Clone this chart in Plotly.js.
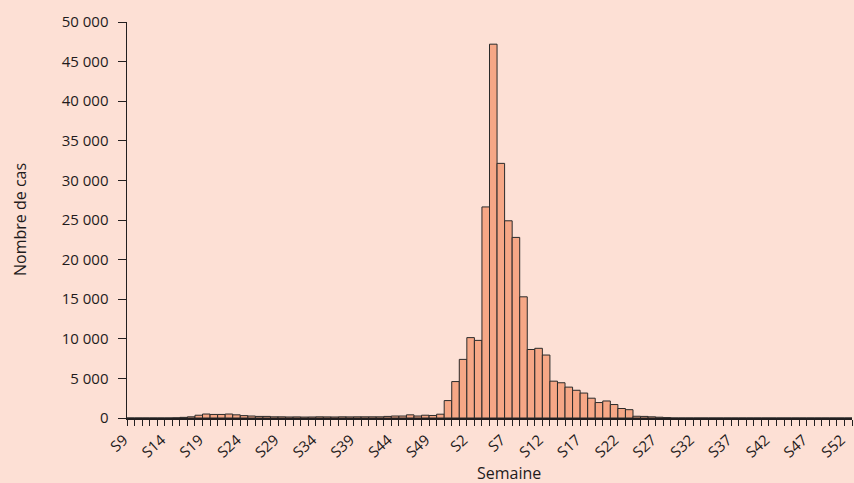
<!DOCTYPE html>
<html>
<head>
<meta charset="utf-8">
<script src="https://cdn.plot.ly/plotly-3.0.1.min.js"></script>
<style>html,body{margin:0;padding:0;background:#FDE0D5;}#chart{width:854px;height:483px;}</style>
</head>
<body>
<div id="chart"></div>
<script>
// Week labels (two consecutive seasons: S9..S52 then S1..S52)
const weeks = [
  "S9","S10","S11","S12","S13","S14","S15","S16","S17","S18","S19","S20","S21","S22","S23","S24",
  "S25","S26","S27","S28","S29","S30","S31","S32","S33","S34","S35","S36","S37","S38","S39","S40",
  "S41","S42","S43","S44","S45","S46","S47","S48","S49","S50","S51","S52",
  "S1","S2","S3","S4","S5","S6","S7","S8","S9","S10","S11","S12","S13","S14","S15","S16",
  "S17","S18","S19","S20","S21","S22","S23","S24","S25","S26","S27","S28","S29","S30","S31","S32",
  "S33","S34","S35","S36","S37","S38","S39","S40","S41","S42","S43","S44","S45","S46","S47","S48",
  "S49","S50","S51","S52"
];
// Weekly case counts
const cases = [
  0,0,0,0,0,0,20,80,150,350,500,450,450,500,400,300,
  250,200,200,150,150,130,140,120,130,150,140,130,150,140,150,150,
  150,150,200,250,250,400,250,350,320,480,2200,
  4600,7400,10150,9800,26650,47200,32150,24900,22800,15300,8650,8800,7950,4650,4450,3900,3500,
  3150,2500,1950,2150,1700,1200,1050,220,200,150,100,50,0,0,0,0,
  0,0,0,0,0,0,0,0,0,0,0,0,0,0,0,0,
  0,0,0,0
];
const labelStep = 5;
const tickIdx = weeks.map((_, i) => i).filter(i => i % labelStep === 0);
const tickLabels = tickIdx.map(i => weeks[i]);
const yTicks = [0,5000,10000,15000,20000,25000,30000,35000,40000,45000,50000];

const trace = {
  type: 'bar',
  x: weeks.map((_, i) => i),
  y: cases,
  hovertext: weeks,
  hoverinfo: 'text+y',
  textposition: 'none',
  marker: {color: '#F6A786', line: {color: '#2a2a2a', width: 1}}
};
const font = {family: 'Open Sans, sans-serif', color: '#1f1b1c', size: 15};
const layout = {
  width: 854, height: 483,
  paper_bgcolor: '#FDE0D5', plot_bgcolor: '#FDE0D5',
  margin: {l: 127, r: 2, t: 22, b: 65},
  bargap: 0,
  separators: ', ',
  font: font,
  showlegend: false,
  xaxis: {
    range: [-0.5, weeks.length - 0.5],
    tickmode: 'array', tickvals: tickIdx, ticktext: tickLabels,
    tickangle: -42,
    ticks: '',
    ticklabeloverflow: 'allow',
    ticklabelshift: -7,
    ticklabelstandoff: 6,
    minor: {ticks: 'outside', ticklen: 6, tickcolor: '#231f20', tickwidth: 1, dtick: 1, tick0: 0.5, showgrid: false},
    showline: true, linecolor: '#231f20', linewidth: 1.5,
    showgrid: false, zeroline: false,
    tickfont: {size: 15}
  },
  yaxis: {
    range: [0, 50000],
    tickmode: 'array', tickvals: yTicks,
    tickformat: ',d',
    ticks: 'outside', ticklen: 8, tickcolor: '#231f20',
    ticklabelstandoff: 6,
    showline: true, linecolor: '#231f20', linewidth: 1.5,
    showgrid: false, zeroline: false,
    tickfont: {size: 15}
  },
  annotations: [{
    text: 'Nombre de cas', xref: 'paper', yref: 'paper', x: 0, y: 0.5,
    xshift: -107, xanchor: 'center', yanchor: 'middle', textangle: -90, showarrow: false,
    font: {size: 16}
  }, {
    text: 'Semaine', xref: 'paper', yref: 'paper', x: 0.527, y: 0,
    yshift: -42, xanchor: 'center', yanchor: 'top', showarrow: false,
    font: {size: 16}
  }]
};
Plotly.newPlot('chart', [trace], layout, {displayModeBar: false, staticPlot: true});
</script>
</body>
</html>
